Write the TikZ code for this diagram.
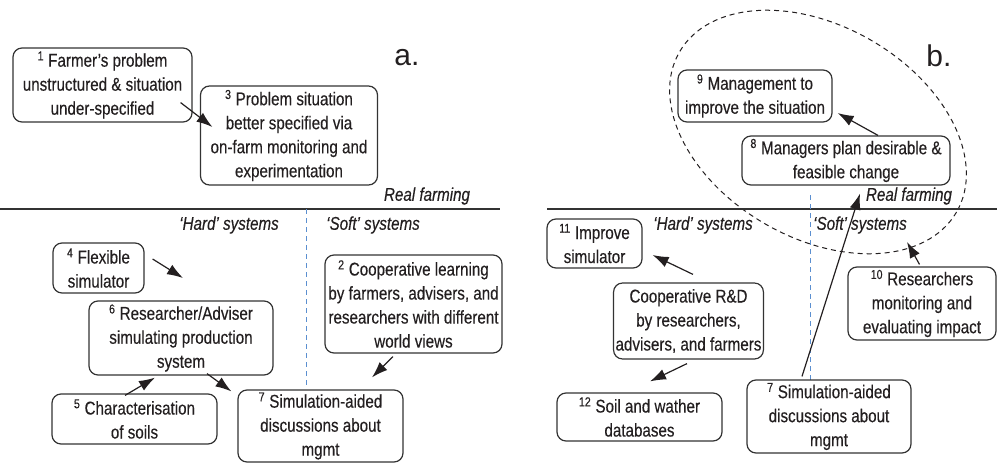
\documentclass[tikz,border=0pt]{standalone}
\usepackage{fontspec}
\setmainfont{Liberation Sans}[FakeStretch=0.82, FakeBold=0.3]
\newfontfamily\tagfont{Liberation Sans}
\usepackage{tikz}
\usetikzlibrary{arrows.meta, positioning}
\usetikzlibrary{calc}

\definecolor{ink}{HTML}{231F20}
\definecolor{edgegray}{HTML}{333333}
\definecolor{splitblue}{HTML}{5B8FD0}

\tikzset{
  box/.style={draw=edgegray, line width=1.2pt, rounded corners=9pt, align=center,
    inner sep=2pt, text=ink, font=\fontsize{18.5}{24}\selectfont},
  arr/.style={-{Latex[length=16pt,width=11pt]}, line width=1.2pt, draw=ink},
  rule/.style={draw=edgegray, line width=1.3pt},
  split/.style={draw=splitblue, line width=0.9pt, dash pattern=on 5pt off 4pt},
  ring/.style={draw=ink, line width=1pt, dash pattern=on 5pt off 4pt},
  lab/.style={text=ink, font=\fontsize{18.5}{24}\selectfont\itshape},
  tag/.style={text=ink, font=\tagfont\fontsize{30}{30}\selectfont}
}

\begin{document}
\begin{tikzpicture}[x=1pt, y=-1pt]
  \useasboundingbox (0,0) rectangle (997,463);

  % panel a
  \node[tag] (taga) at (407,58) {a.};
  \node[box, minimum width=179pt, minimum height=74pt] (n1) at (102.5,85)
    {\textsuperscript{1} Farmer’s problem\\unstructured \& situation\\under-specified};
  \node[box, minimum width=177pt, minimum height=99pt] (n3) at (289,135.5)
    {\textsuperscript{3} Problem situation\\better specified via\\on-farm monitoring and\\experimentation};
  \node[lab] (realA) at (427,196) {Real farming};
  \draw[rule] (0,209) -- (500,209);
  \draw[split] (306,209) -- (306,388);
  \node[lab] (hardA) at (229,225) {‘Hard’ systems};
  \node[lab] (softA) at (373,225) {‘Soft’ systems};

  \node[box, minimum width=91pt, minimum height=50pt] (n4) at (98.5,268)
    {\textsuperscript{4} Flexible\\simulator};
  \node[box, minimum width=184pt, minimum height=74pt] (n6) at (181,338)
    {\textsuperscript{6} Researcher/Adviser\\simulating production\\system};
  \node[box, minimum width=165pt, minimum height=50pt] (n5) at (134.5,419)
    {\textsuperscript{5} Characterisation\\of soils};
  \node[box, minimum width=165pt, minimum height=72pt] (n7) at (320.5,426)
    {\textsuperscript{7} Simulation-aided\\discussions about\\mgmt};
  \node[box, minimum width=177pt, minimum height=98pt] (n2) at (413.5,304)
    {\textsuperscript{2} Cooperative learning\\by farmers, advisers, and\\researchers with different\\world views};
  \coordinate (sim) at (183,278);

  \draw[arr] ([shift={(-12,-20)}]n1.south east) -- ([shift={(12.5,-8.5)}]n3.west);
  \draw[arr] ([shift={(8,-9)}]n4.east) -- (sim);
  \draw[arr] ([shift={(-9.5,2)}]n5.north) -- ([shift={(-26,2)}]n6.south);
  \draw[arr] ([shift={(26,-2)}]n6.south) -- ([shift={(-6,2)}]n7.north west);
  \draw[arr] ([shift={(-20.5,3)}]n2.south) -- ([shift={(51.5,-12)}]n7.north);

  % panel b
  \draw[ring, rotate around={-30:(818,132)}] (818,132) ellipse [x radius=160, y radius=106];
  \node[tag] (tagb) at (939,56) {b.};
  \node[box, minimum width=154pt, minimum height=52pt] (n9) at (755,96)
    {\textsuperscript{9} Management to\\improve the situation};
  \node[box, minimum width=208pt, minimum height=49pt] (n8) at (846,160.5)
    {\textsuperscript{8} Managers plan desirable \&\\feasible change};
  \node[lab] (realB) at (909,196) {Real farming};
  \draw[rule] (547,209) -- (997,209);
  \draw[split] (810,195) -- (810,380);
  \node[lab] (hardB) at (703,225) {‘Hard’ systems};
  \node[lab] (softB) at (860,225) {‘Soft’ systems};

  \node[box, minimum width=95pt, minimum height=49pt] (n11) at (594.5,243.5)
    {\textsuperscript{11} Improve\\simulator};
  \node[box, minimum width=149pt, minimum height=76pt] (nrd) at (688.5,321)
    {Cooperative R\&D\\by researchers,\\advisers, and farmers};
  \node[box, minimum width=165pt, minimum height=48pt] (n12) at (639.5,417)
    {\textsuperscript{12} Soil and wather\\databases};
  \node[box, minimum width=164pt, minimum height=73pt] (n7b) at (829,416.5)
    {\textsuperscript{7} Simulation-aided\\discussions about\\mgmt};
  \node[box, minimum width=148pt, minimum height=73pt] (n10) at (922,303.5)
    {\textsuperscript{10} Researchers\\monitoring and\\evaluating impact};
  \coordinate (ring) at (907,242);

  \draw[arr] ([shift={(32,0)}]n8.north) -- ([shift={(5,17)}]n9.east);
  \draw[arr] ([shift={(4.5,-8)}]nrd.north) -- ([shift={(10,11.5)}]n11.east);
  \draw[arr] ([shift={(-1.5,4)}]nrd.south) -- ([shift={(10.5,-11)}]n12.north);
  \draw[arr] ([shift={(-27,-3)}]n7b.north) -- ([shift={(14,8)}]n8.south);
  \draw[arr] ([shift={(-2.5,-2)}]n10.north) -- (ring);
\end{tikzpicture}
\end{document}
